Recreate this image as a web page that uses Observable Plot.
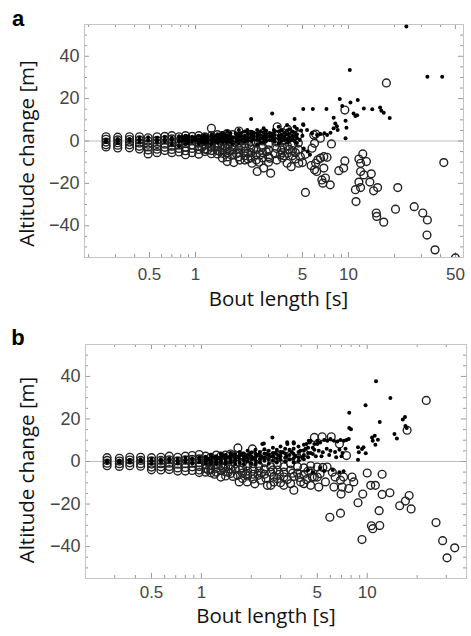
<!DOCTYPE html>
<html><head><meta charset="utf-8">
<script src="https://cdn.jsdelivr.net/npm/d3@7"></script>
<script src="https://cdn.jsdelivr.net/npm/@observablehq/plot@0.6"></script>
<style>
body{margin:0;background:#fff;}
#chart svg{display:block;}
</style></head><body><div id="chart"></div>
<script>
// Panel a: open circles [bout length s, altitude change m]
const aOpen = [
[0.26,2],[0.26,0.8],[0.26,-0.5],[0.26,-1.8],[0.26,-2.8],
[0.31,1.8],[0.31,0.5],[0.31,-0.8],[0.31,-2.0],[0.31,-3.3],
[0.37,2],[0.37,0.7],[0.37,-0.5],[0.37,-1.8],[0.37,-3.2],
[0.43,2],[0.43,0.5],[0.43,-1],[0.43,-2.5],[0.43,-3.8],
[0.49,1.5],[0.49,0],[0.49,-1.5],[0.49,-2.8],[0.49,-4.2],[0.49,-6.1],
[0.56,2],[0.56,0.3],[0.56,-1.2],[0.56,-2.6],[0.56,-3.9],[0.56,-5.5],
[0.63,2.2],[0.63,0.5],[0.63,-1.5],[0.63,-3],[0.63,-4.5],
[0.7,2.5],[0.7,1],[0.7,-0.8],[0.7,-2.5],[0.7,-4],[0.7,-5.5],
[0.78,2],[0.78,0],[0.78,-2],[0.78,-3.5],[0.78,-5.2],
[0.86,2.5],[0.86,0.8],[0.86,-1.2],[0.86,-3],[0.86,-4.6],[0.86,-6.5],
[0.95,2.2],[0.95,0.2],[0.95,-1.8],[0.95,-3.5],[0.95,-5.5],
[1.05,2.5],[1.05,1],[1.05,-1],[1.05,-2.5],[1.05,-4],[1.05,-6.2],
[1.15,2],[1.15,0],[1.15,-2],[1.15,-3.8],[1.15,-5],
[1.27,6],[1.27,2.5],[1.27,0.5],[1.27,-1.5],[1.27,-3],[1.27,-4.5],[1.27,-6],
[1.39,3],[1.39,1],[1.39,-1],[1.39,-2.8],[1.39,-4.6],[1.39,-6.1],
[1.5,2.5],[1.5,0],[1.5,-2.2],[1.5,-4],[1.5,-5.8],[1.5,-8],
[1.61,3.5],[1.61,1],[1.61,-1.5],[1.61,-3.5],[1.61,-5.5],[1.61,-7.5],[1.61,-9.7],
[1.75,3],[1.75,0.5],[1.75,-2],[1.75,-4.2],[1.75,-6.3],[1.78,-10.2],
[1.92,4.7],[1.92,1.5],[1.92,-1],[1.92,-3.5],[1.92,-5.5],[1.92,-7.5],
[2.1,2.5],[2.1,0],[2.1,-2.5],[2.1,-4.8],[2.1,-7],[2.1,-9],
[2.3,3],[2.3,-0.5],[2.3,-3.2],[2.3,-5.5],[2.3,-8],[2.34,-10.5],
[2.5,2],[2.5,-1],[2.5,-4],[2.5,-6.5],[2.5,-9],[2.53,-14.4],
[2.75,3.5],[2.75,0],[2.75,-3],[2.75,-5.5],[2.75,-8],[2.79,-12.8],
[3.0,2],[3.0,-1.5],[3.0,-4.2],[3.0,-7.4],[3.0,-10],[3.1,-15.2],
[3.42,6.7],[3.4,3],[3.4,-0.5],[3.4,-3.5],[3.59,-6.6],[3.4,-9],
[3.7,4],[3.7,0],[3.7,-3],[3.7,-5.5],[3.7,-8],[3.97,-10.5],
[4.0,5.5],[4.0,1],[4.0,-2.5],[4.0,-5.8],[4.22,-12.1],
[4.3,2],[4.3,-2],[4.3,-4.5],[4.3,-7],
[4.73,3],[4.7,-1],[4.7,-4],[4.73,-10.5],[4.85,-7.4],
[1.1,-3],[1.2,-4.2],[1.33,-2.2],[1.45,-5],[1.55,-3.2],[1.68,-4.8],[1.85,-6],[2.0,-2.5],[2.2,-5.8],[2.4,-3.8],
[2.65,-6.5],[2.9,-5],[3.05,-8.2],[3.3,-6],[3.65,-4.2],[3.8,-7],[4.1,-4],[4.5,-5.5],[4.5,-8.5],[2.2,-8.5],[2.6,-10],[1.95,-9],
[5.0,-10.2],[5.23,-6.3],[5.23,-24.3],
[5.93,2.8],[6.0,-1.1],[5.78,-3.4],[6.1,3.3],[6.55,1.3],
[6.9,-7.4],[7.24,-7.7],[6.56,-8.1],[6.3,-8.9],[6.1,-10.5],[5.7,-11.6],[6.0,-13.6],[6.9,-12.8],[6.2,-14.4],[6.7,-18.4],[7.07,-17.5],[7.6,-20.7],[6.8,-19.9],
[7.74,-1.4],[8.65,-14],[9.3,-12.8],[9.47,-9.4],[9.47,14.6],
[12.4,-6.1],[11.7,-8.5],[13.1,-9.7],[12.0,-10.5],
[12,-14.4],[12.6,-16],[14.1,-15.5],[13.8,-19.4],[11.7,-19.4],[11.1,-23],[12,-22],
[14.6,-23.5],[15.5,-22],[11.2,-28.6],[15.2,-34],[15.3,-35.6],[17.0,-38.3],
[17.7,27.4],[21,-22],[20.3,-32.2],[26.9,-31],[30.6,-34],[32.8,-37.3],[32.6,-44.4],[36.8,-51.4],[50,-55.2],[42,-10.2]
];
// Panel a: filled dots
const aFilled = [
[0.26,0.5],[0.26,-0.5],
[0.31,1],[0.31,0],[0.31,-1],
[0.37,1],[0.37,0],
[0.43,1.5],[0.43,0.5],[0.43,-0.5],
[0.49,1.8],[0.49,0.5],
[0.56,1.5],[0.56,0.5],[0.56,-0.5],
[0.63,2],[0.63,0.8],[0.63,-0.3],
[0.7,1.5],[0.7,0.3],[0.7,-1.5],
[0.78,2.3],[0.78,1],[0.78,-0.5],[0.78,-2.5],
[0.86,2.5],[0.86,1.2],[0.86,0],[0.86,-1.5],
[0.95,2],[0.95,0.8],[0.95,-0.5],
[1.05,2.5],[1.05,1],[1.05,0],[1.05,-1.2],
[1.15,2.8],[1.15,1.5],[1.15,0.3],[1.15,-1],
[1.27,3],[1.27,1.5],[1.27,0],[1.27,-1.5],
[1.39,3.2],[1.39,2],[1.39,0.5],[1.39,-0.8],
[1.5,3.6],[1.5,2],[1.5,0.8],[1.5,-0.5],
[1.61,4.4],[1.61,2.5],[1.61,1],[1.61,-0.5],
[1.69,3.6],[1.75,1.5],[1.75,0],[1.75,-1.5],
[1.83,3.6],[1.92,5.2],[1.92,3.5],[1.92,2],[1.92,0.5],[1.92,-1],
[2.1,4.5],[2.1,2.5],[2.1,1],[2.1,-0.5],
[2.18,5.2],[2.31,10.4],[2.31,4.4],[2.31,3],[2.31,1.5],[2.31,0],
[2.53,5.2],[2.53,3.5],[2.53,2],[2.53,0.5],[2.53,-1.5],
[2.79,6],[2.79,4],[2.79,2.5],[2.79,1],[2.79,-0.5],
[3.17,13],[3.25,5.2],[3.17,3.5],[3.17,2],[3.17,0.5],
[3.5,6.7],[3.5,4.5],[3.5,2.5],[3.5,1],[3.5,-1],
[3.97,7.5],[3.97,5],[3.97,3],[3.97,1],[3.97,-0.8],
[4.44,10.4],[4.44,6.7],[4.44,4],[4.44,2],[4.44,0],
[0.82,1.8],[0.82,0.2],[0.9,2.2],[0.9,0.6],[0.9,-0.8],[1.0,1.8],[1.0,0.3],[1.1,2],[1.1,0.7],[1.1,-0.5],
[1.2,2.2],[1.2,0.8],[1.2,-0.6],[1.33,2.5],[1.33,1],[1.33,-0.4],[1.45,2.8],[1.45,1.2],[1.45,0],
[1.55,3],[1.55,1.5],[1.55,0.2],[1.68,2.5],[1.68,1],[1.68,-0.3],[1.85,2.8],[1.85,1.2],[1.85,-0.2],
[2.0,3.8],[2.0,2],[2.0,0.5],[2.2,3.5],[2.2,1.8],[2.2,0.2],[2.4,4],[2.4,2.2],[2.4,0.8],
[2.65,4.5],[2.65,2.8],[2.65,1.2],[2.65,-0.5],[2.9,4.8],[2.9,3],[2.9,1.5],[2.9,0],
[3.05,3.8],[3.05,2.2],[3.05,0.5],[3.3,4.5],[3.3,2.8],[3.3,1.2],[3.3,-0.3],
[3.65,5],[3.65,3],[3.65,1.5],[3.65,0],[3.8,3.8],[3.8,2],[3.8,0.5],
[4.1,5.5],[4.1,3.5],[4.1,1.5],[4.1,0],[4.3,4.5],[4.3,2.5],[4.3,0.8],[4.6,5.8],[4.6,3.2],[4.6,1.5],[4.6,-1],
[5.05,7.9],[4.9,5],[5.0,2.5],[4.8,0.5],[5.1,-3.5],[5.4,-5],[5.6,-6.5],
[5.06,15.1],[5.85,15.1],[7.18,15.1],
[5.08,7.5],[5.36,5.2],[5.78,3.6],[6.23,2.8],[6.55,3.3],[6.96,3.6],[7.25,2.8],[7.63,3.9],
[8.0,11],[8.2,8.3],[8.4,7],[8.0,6],[8.5,5.2],
[8.77,19.8],[9.1,16.5],[9.57,9.6],[9.7,6.3],[9.57,1.3],
[10.2,33.5],[10.3,18.2],[11.5,19.3],[12.6,15.4],[14.3,15],
[10.8,13],[11.1,11.8],[11.4,12.2],
[16.1,15.8],[16.4,14.3],[17,13.3],[18.6,10.8],
[23.9,54.1],[32.8,30.3],[41,30.3]
];
// Panel b: open circles
const bOpen = [
[0.27,1.8],[0.27,0.5],[0.27,-0.8],[0.27,-2],
[0.32,1.5],[0.32,0.2],[0.32,-1],[0.32,-2.3],
[0.37,2],[0.37,0.7],[0.37,-0.6],[0.37,-2],
[0.43,2],[0.43,0.5],[0.43,-1],[0.43,-2.2],
[0.5,1.8],[0.5,0.3],[0.5,-1.2],[0.5,-2.6],[0.5,-3.9],
[0.57,2],[0.57,0.5],[0.57,-1],[0.57,-2.5],[0.57,-4],
[0.64,2.5],[0.64,0.8],[0.64,-0.8],[0.64,-2.4],[0.64,-3.8],
[0.72,2],[0.72,0.3],[0.72,-1.3],[0.72,-3],[0.72,-4.5],
[0.8,2.5],[0.8,0.8],[0.8,-1],[0.8,-2.8],[0.8,-4.5],
[0.88,2.8],[0.88,1],[0.88,-0.8],[0.88,-2.5],[0.88,-4.2],
[0.97,3.3],[0.97,1.2],[0.97,-0.6],[0.97,-2.4],[0.97,-4],[0.97,-5.2],
[1.06,2.5],[1.06,0.5],[1.06,-1.5],[1.06,-3.3],[1.06,-5],
[1.14,2],[1.14,0],[1.14,-2],[1.14,-3.8],[1.14,-5.3],
[1.23,3],[1.23,0.8],[1.23,-1.4],[1.23,-3.2],[1.23,-5],
[1.31,2.5],[1.31,0.2],[1.31,-2],[1.31,-4.2],[1.31,-7.3],
[1.4,3],[1.4,0.5],[1.4,-2.5],[1.4,-4.8],[1.4,-6.8],
[1.5,3.5],[1.5,1],[1.5,-1.5],[1.5,-3.5],[1.5,-5.6],
[1.6,3],[1.6,-1],[1.6,-3.5],[1.65,-6.5],[1.69,-9.6],
[1.66,6.4],[1.77,2.5],[1.77,-0.5],[1.77,-3],[1.77,-5.5],[1.77,-8],
[1.89,-9.6],[1.9,1.5],[1.9,-2],[1.9,-4.5],[1.9,-6.8],
[2.03,5.9],[2.05,3],[2.05,-1],[2.05,-3.5],[2.05,-6],[2.05,-8.2],
[2.22,2],[2.22,-2],[2.22,-4.5],[2.28,-8.8],[2.2,-6.5],
[2.4,3.5],[2.4,-0.5],[2.4,-3.5],[2.4,-6],[2.5,-11.2],
[2.62,2],[2.62,-2.5],[2.62,-5],[2.62,-11.2],[2.74,-9.6],[2.74,-7],
[2.87,3],[2.87,-1.5],[2.87,-4],[2.87,-8.1],
[3.14,2],[3.14,-2.5],[3.14,-5],[3.14,-7.3],[3.14,-11.2],
[3.45,3],[3.45,-1],[3.45,-4],[3.45,-10.4],[3.61,-13.5],[3.61,-7],
[3.8,1.5],[3.8,-2.5],[3.8,-5.5],[3.97,-9.6],
[4.15,4],[4.15,-3],[4.15,-6],[4.15,-10.4],
[4.56,-2],[4.56,-4.5],[4.56,-11.2],[4.66,-7.3],
[1.1,-4],[1.2,-6],[1.35,-3],[1.45,-5],[1.55,-7],[1.7,-4],[1.85,-6],[2.1,-10.5],[2.3,-5.5],
[2.45,-8],[2.7,-4],[2.95,-6],[3.0,-10],[3.3,-8.5],[3.55,-5.5],[3.9,-7.5],[4.3,-8.5],[4.4,-4.5],
[4.8,11.3],[5.35,11.6],[6.07,11.6],[6.8,8.2],[7.5,2.8],
[5.0,-2.6],[5.4,-2.8],
[5.1,-12],[5.0,-7.3],[5.73,-2.6],[6.16,-5],[6.4,-7.3],[6.9,-8.8],[6.3,-12],[7.06,-12],[7.74,-12.7],[8.3,-9.6],[8.1,-7.3],[7.2,-7.3],[5.6,-9.6],[5.2,-5.7],[4.8,-7.3],
[6.96,-15.3],[5.95,-26.2],[6.9,-24.3],
[10,-5.4],[12.3,-6],[10.5,-11.2],[11.2,-11.2],[9.4,-15.3],[8.8,-19.4],[12.3,-15.5],[13.7,-14.7],[11.8,-23.1],[10.6,-30.2],[10.8,-31.6],[11.9,-30.1],[9.3,-36.7],
[15.7,-20.8],[17,-18.6],[17.9,-16],[18.4,-22.3],[26,-28.7],[28.5,-37.2],[33.7,-40.6],[30.3,-45.3],
[22.7,28.7],[17.4,14.7]
];
// Panel b: filled dots
const bFilled = [
[0.27,0.3],[0.27,-0.5],
[0.32,0.5],[0.32,-0.5],
[0.37,0.8],[0.37,-0.3],
[0.43,1],[0.43,0],
[0.5,1.2],[0.5,0],[0.5,-0.8],
[0.57,1],[0.57,-0.2],
[0.64,1.5],[0.64,0.2],
[0.72,1.2],[0.72,0],[0.72,-0.8],
[0.8,1.8],[0.8,0.5],[0.8,-0.5],
[0.88,1.5],[0.88,0.3],[0.88,-1],
[0.97,2],[0.97,0.8],[0.97,-0.3],
[1.06,2.2],[1.06,1],[1.06,0],[1.06,-1],
[1.14,3],[1.14,1.5],[1.14,0.3],[1.14,-0.8],
[1.23,2.5],[1.23,1.2],[1.23,0],[1.23,-1.2],
[1.31,3.5],[1.31,2],[1.31,0.7],[1.31,-0.5],
[1.4,3],[1.4,1.5],[1.4,0.2],[1.4,-1],
[1.5,4],[1.5,2.5],[1.5,1],[1.5,-0.3],
[1.6,3.5],[1.6,2],[1.6,0.5],[1.6,-1],
[1.7,4.5],[1.7,2.8],[1.7,1.2],[1.7,-0.5],
[1.8,3.8],[1.8,2.2],[1.8,0.6],[1.8,-1.2],
[1.9,5],[1.9,3],[1.9,1.5],[1.9,0],
[2.0,4.2],[2.0,2.5],[2.0,1],[2.0,-0.8],
[2.12,5.5],[2.12,3.5],[2.12,2],[2.12,0.5],[2.12,-1],
[2.25,4.5],[2.25,2.8],[2.25,1.2],[2.25,-0.5],
[2.33,8.2],[2.38,8.5],[2.4,5.8],[2.4,3.8],[2.4,2],[2.4,0.3],
[2.55,5],[2.55,3],[2.55,1.2],[2.55,-1],
[2.68,11.3],[2.7,6.5],[2.7,4],[2.7,2.2],[2.7,0.5],
[2.85,5.5],[2.85,3.5],[2.85,1.5],[2.85,-0.5],
[3.0,7],[3.0,4.5],[3.0,2.5],[3.0,0.8],
[3.2,6],[3.2,3.8],[3.2,1.8],[3.2,0],
[3.3,8.2],[3.29,9],[3.4,5.5],[3.4,3],[3.4,1],
[3.6,9],[3.61,8.5],[3.6,6],[3.6,3.5],[3.6,1.5],[3.6,-0.5],
[3.85,7],[3.85,4.5],[3.85,2],[3.85,0.3],
[4.15,7.9],[4.15,5],[4.15,3],[4.15,1],
[4.44,9.8],[4.4,6.5],[4.4,4],[4.4,2],[4.4,-4],
[4.56,9.8],[4.7,6.5],[4.7,3.5],[4.7,-5],
[1.1,1.2],[1.18,2],[1.27,1.5],[1.35,2.8],[1.45,2],[1.55,3],[1.65,2.2],[1.75,3.2],[1.85,2],[1.95,3.5],
[2.06,1.8],[2.18,3],[2.3,2],[2.47,3.5],[2.62,2.5],[2.78,4],[2.93,2.8],[3.1,4.5],[3.25,2.5],[3.5,4.5],
[3.7,2.5],[3.95,5],[4.05,2],[4.25,6],[4.55,4],[4.8,5.5],[4.9,2.5],
[5.0,8.2],[5.0,9.8],[5.2,8.9],[5.5,10.1],[5.75,9.8],[6.0,10.6],[6.3,9.8],[6.6,9.4],[6.9,10.1],[7.24,9.8],[7.5,10.1],[7.74,10.6],
[4.8,8.2],[4.5,8.9],[4.3,8.2],
[5.1,5],[5.4,4.3],[5.7,6],[6.0,5],[6.4,4.5],[6.8,5.5],[7.1,4],[7.4,6],[5.3,2.5],[5.9,3],[6.5,2],[7.0,2.5],
[5.2,-3],[5.5,-4.5],[6.2,-4],[6.8,-5],[7.2,-4.6],
[7.79,22.9],[7.79,15.7],[7.98,15.2],
[8.8,6.7],[9.3,5.9],[9.5,6.7],[9.8,3.9],[8.9,4.3],[8.8,0.8],
[9.77,26.4],[11.3,37.7],[13.8,29.9],[11.9,18.6],[16.9,20.9],[16.4,19.8],[17.0,16.7],[17.3,15.7],[14.6,12.9],[15.1,10.8],
[10.7,11.3],[11.1,12.1],[11.6,10.2],[10.8,9.8],[11.2,7.9]
];

const yMajor = [-40,-20,0,20,40];
const yMinor = [-50,-45,-35,-30,-25,-15,-10,-5,5,10,15,25,30,35,45,50];
const xLabels = [0.5,1,5,10,50];
const xMinor = [0.2,0.3,0.4,0.6,0.7,0.8,0.9,2,3,4,6,7,8,9,20,30,40];
const xTitle = "Bout length [s]";
const yTitle = "Altitude change [m]";

const panels = [
  {label:"a", open:aOpen, filled:aFilled, xd:[0.188,56.5], ml:84, mr:8, mt:24, mb:61,
   xpad:10, xtx:278.5, xty:306, yty:153.5, lby:26},
  {label:"b", open:bOpen, filled:bFilled, xd:[0.2,39.7], ml:85, mr:5, mt:26, mb:58,
   xpad:7, xtx:266, xty:304.5, yty:152, lby:27}
];

const W = 471, H = 318;
const tickColor = "#9a9a9a";
const chart = document.getElementById("chart");

for (const p of panels) {
  const fw = W - p.ml - p.mr, fh = H - p.mt - p.mb;
  const inX = v => v >= p.xd[0] && v <= p.xd[1];
  const xMaj = xLabels.filter(inX);
  const xMin = xMinor.filter(inX);
  const svg = Plot.plot({
    width: W, height: H,
    marginLeft: p.ml, marginRight: p.mr, marginTop: p.mt, marginBottom: p.mb,
    x: {type: "log", domain: p.xd, axis: null},
    y: {domain: [-55, 55], axis: null},
    style: {fontFamily: "'Liberation Sans', Arial, sans-serif", background: "#fff", overflow: "visible"},
    marks: [
      Plot.ruleY([0], {stroke: "#bdbdbd", strokeWidth: 1}),
      Plot.tickX(xMaj, {x: d => d, stroke: tickColor, insetTop: fh - 5}),
      Plot.tickX(xMaj, {x: d => d, stroke: tickColor, insetBottom: fh - 5}),
      Plot.tickX(xMin, {x: d => d, stroke: tickColor, insetTop: fh - 3}),
      Plot.tickX(xMin, {x: d => d, stroke: tickColor, insetBottom: fh - 3}),
      Plot.tickY(yMajor, {y: d => d, stroke: tickColor, insetRight: fw - 5}),
      Plot.tickY(yMajor, {y: d => d, stroke: tickColor, insetLeft: fw - 5}),
      Plot.tickY(yMinor, {y: d => d, stroke: tickColor, insetRight: fw - 3}),
      Plot.tickY(yMinor, {y: d => d, stroke: tickColor, insetLeft: fw - 3}),
      Plot.frame({stroke: "#c4c4c4"}),
      Plot.text(xMaj, {x: d => d, text: d => String(d), frameAnchor: "bottom", lineAnchor: "top",
        dy: p.xpad, fontSize: 17, fill: "#454545"}),
      Plot.text(yMajor, {y: d => d, text: d => d < 0 ? "\u2212" + (-d) : String(d), frameAnchor: "left",
        textAnchor: "end", dx: -5, fontSize: 18, fill: "#454545"}),
      Plot.dot(p.open, {x: d => d[0], y: d => d[1], r: 3.9, stroke: "#222", strokeWidth: 1.4, fill: "none", clip: true}),
      Plot.dot(p.filled, {x: d => d[0], y: d => d[1], r: 2, fill: "#000", stroke: "none", clip: true})
    ]
  });
  const s = d3.select(svg);
  s.append("text").attr("x", 18).attr("y", p.lby)
    .style("font-family", "'Liberation Sans', Arial, sans-serif")
    .style("font-weight", "bold").style("font-size", "22px").attr("fill", "#000")
    .text(p.label);
  s.append("text").attr("x", p.xtx).attr("y", p.xty).attr("text-anchor", "middle")
    .style("font-family", "'Open Sans', sans-serif").style("font-size", "20.5px").attr("fill", "#111")
    .text(xTitle);
  s.append("text").attr("transform", `translate(34,${p.yty}) rotate(-90)`).attr("text-anchor", "middle")
    .style("font-family", "'Open Sans', sans-serif").style("font-size", "20.5px").attr("fill", "#111")
    .text(yTitle);
  chart.appendChild(svg);
}
</script>
</body></html>
